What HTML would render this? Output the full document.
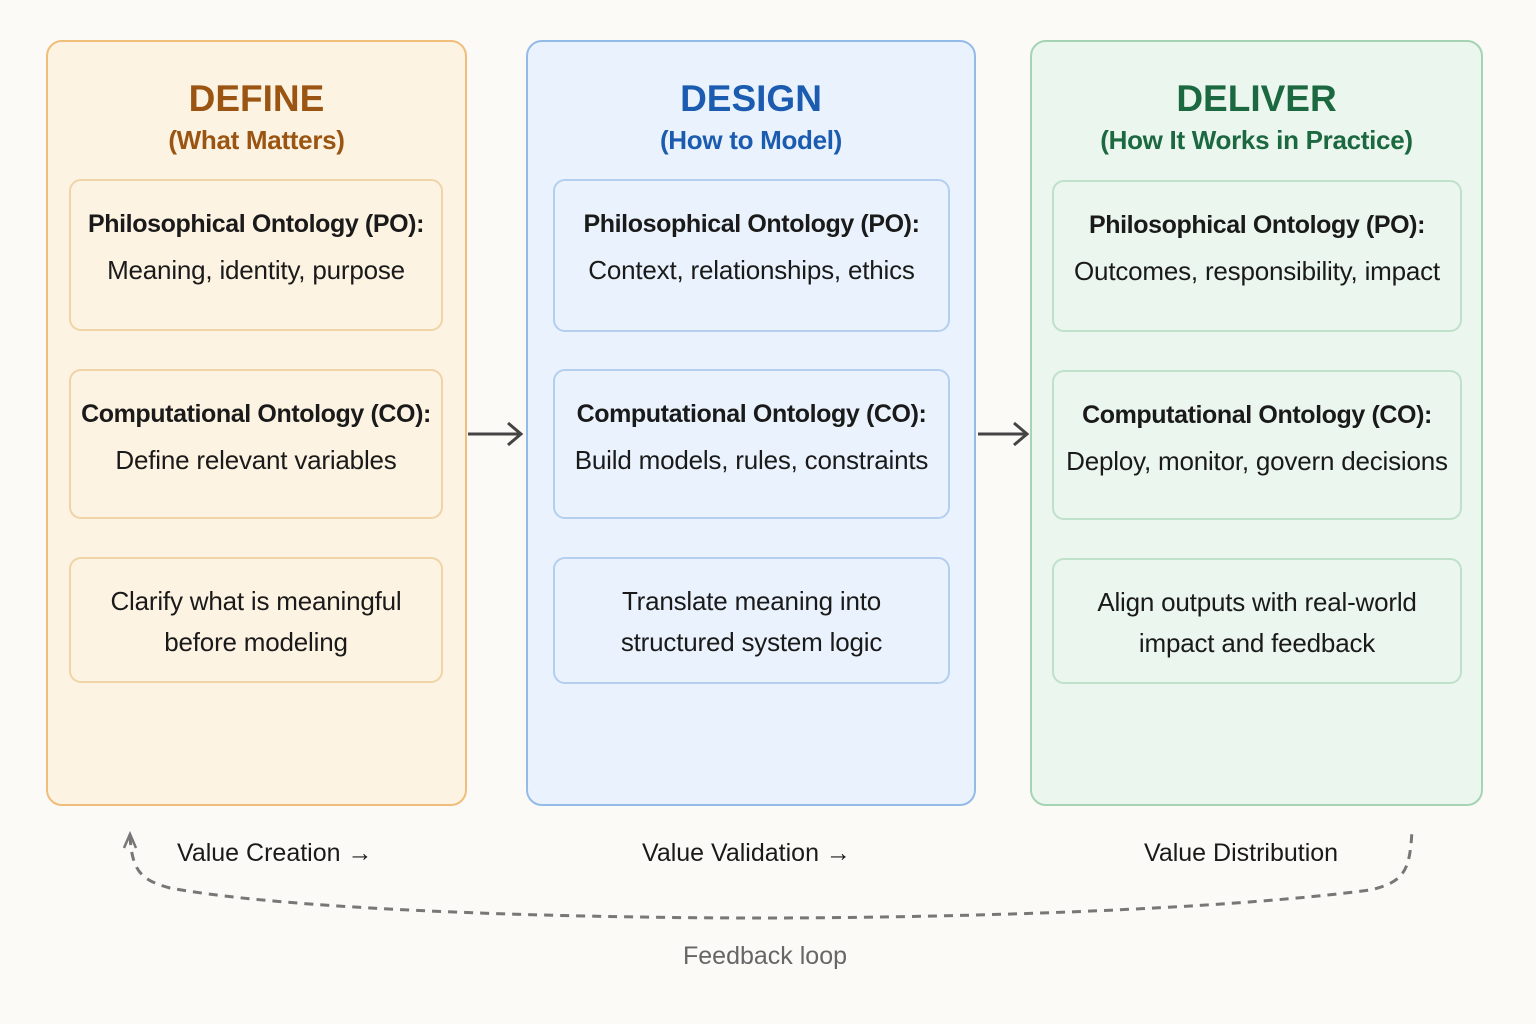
<!DOCTYPE html>
<html><head><meta charset="utf-8"><style>
body{margin:0;width:1536px;height:1024px;background:#fbfaf6;font-family:"Liberation Sans",sans-serif;position:relative;overflow:hidden}
.col{position:absolute;top:40px;height:766px;border:2px solid;border-radius:16px;box-sizing:border-box}
.t{position:absolute;left:0;right:0;text-align:center;font-weight:bold;font-size:37px;line-height:40px}
.s{position:absolute;left:0;right:0;text-align:center;font-size:26px;line-height:30px;font-weight:bold;letter-spacing:-0.3px}
.b{position:absolute;border:2px solid;border-radius:12px;box-sizing:border-box;text-align:center;color:#1a1a1a}
.b .h{font-weight:bold;font-size:25px;letter-spacing:-0.4px;margin-top:28px;line-height:30px}
.b .p{font-size:26px;margin-top:16px;line-height:30px;letter-spacing:-0.2px}
.b .q{font-size:26px;line-height:41px;margin-top:22px;letter-spacing:-0.2px}
.lab{position:absolute;font-size:25px;color:#1a1a1a;line-height:30px}
</style></head><body>
<div class="col" style="left:46px;width:421px;background:#fdf3e2;border-color:#f0bd7a">
 <div class="t" style="top:37px;color:#9a5512">DEFINE</div>
 <div class="s" style="top:83px;color:#9a5512">(What Matters)</div>
</div>
<div class="col" style="left:526px;width:450px;background:#eaf3fd;border-color:#94bbe8">
 <div class="t" style="top:37px;color:#1b5cb0">DESIGN</div>
 <div class="s" style="top:83px;color:#1b5cb0">(How to Model)</div>
</div>
<div class="col" style="left:1030px;width:453px;background:#ebf6ee;border-color:#a5d3b4">
 <div class="t" style="top:37px;color:#1c6840">DELIVER</div>
 <div class="s" style="top:83px;color:#1c6840">(How It Works in Practice)</div>
</div>

<div class="b" style="left:69px;top:179px;width:374px;height:152px;border-color:#efd4a8"><div class="h">Philosophical Ontology (PO):</div><div class="p">Meaning, identity, purpose</div></div>
<div class="b" style="left:69px;top:369px;width:374px;height:150px;border-color:#efd4a8"><div class="h">Computational Ontology (CO):</div><div class="p">Define relevant variables</div></div>
<div class="b" style="left:69px;top:557px;width:374px;height:126px;border-color:#efd4a8"><div class="q">Clarify what is meaningful<br>before modeling</div></div>

<div class="b" style="left:553px;top:179px;width:397px;height:153px;border-color:#b4cfee"><div class="h">Philosophical Ontology (PO):</div><div class="p">Context, relationships, ethics</div></div>
<div class="b" style="left:553px;top:369px;width:397px;height:150px;border-color:#b4cfee"><div class="h">Computational Ontology (CO):</div><div class="p">Build models, rules, constraints</div></div>
<div class="b" style="left:553px;top:557px;width:397px;height:127px;border-color:#b4cfee"><div class="q">Translate meaning into<br>structured system logic</div></div>

<div class="b" style="left:1052px;top:180px;width:410px;height:152px;border-color:#bfe0c9"><div class="h">Philosophical Ontology (PO):</div><div class="p">Outcomes, responsibility, impact</div></div>
<div class="b" style="left:1052px;top:370px;width:410px;height:150px;border-color:#bfe0c9"><div class="h">Computational Ontology (CO):</div><div class="p">Deploy, monitor, govern decisions</div></div>
<div class="b" style="left:1052px;top:558px;width:410px;height:126px;border-color:#bfe0c9"><div class="q">Align outputs with real-world<br>impact and feedback</div></div>

<svg width="1536" height="1024" style="position:absolute;left:0;top:0">
 <g stroke="#444" stroke-width="3" fill="none">
  <path d="M468 434 H520 M508 423 L521 434 L508 445"/>
  <path d="M978 434 H1026 M1014 423 L1027 434 L1014 445"/>
 </g>
 <path d="M130 836 C132 870 140 880 170 888 C300 912 600 918 760 918 C950 918 1220 910 1370 890 C1405 882 1410 870 1412 830" stroke="#777" stroke-width="3" fill="none" stroke-dasharray="9 7"/>
 <path d="M124 848 L130 834 L136 848" stroke="#777" stroke-width="2.5" fill="none"/>
</svg>
<div class="lab" style="left:177px;top:838px">Value Creation →</div>
<div class="lab" style="left:642px;top:838px">Value Validation →</div>
<div class="lab" style="left:1144px;top:838px">Value Distribution</div>
<div class="lab" style="left:683px;top:941px;color:#666">Feedback loop</div>
</body></html>
